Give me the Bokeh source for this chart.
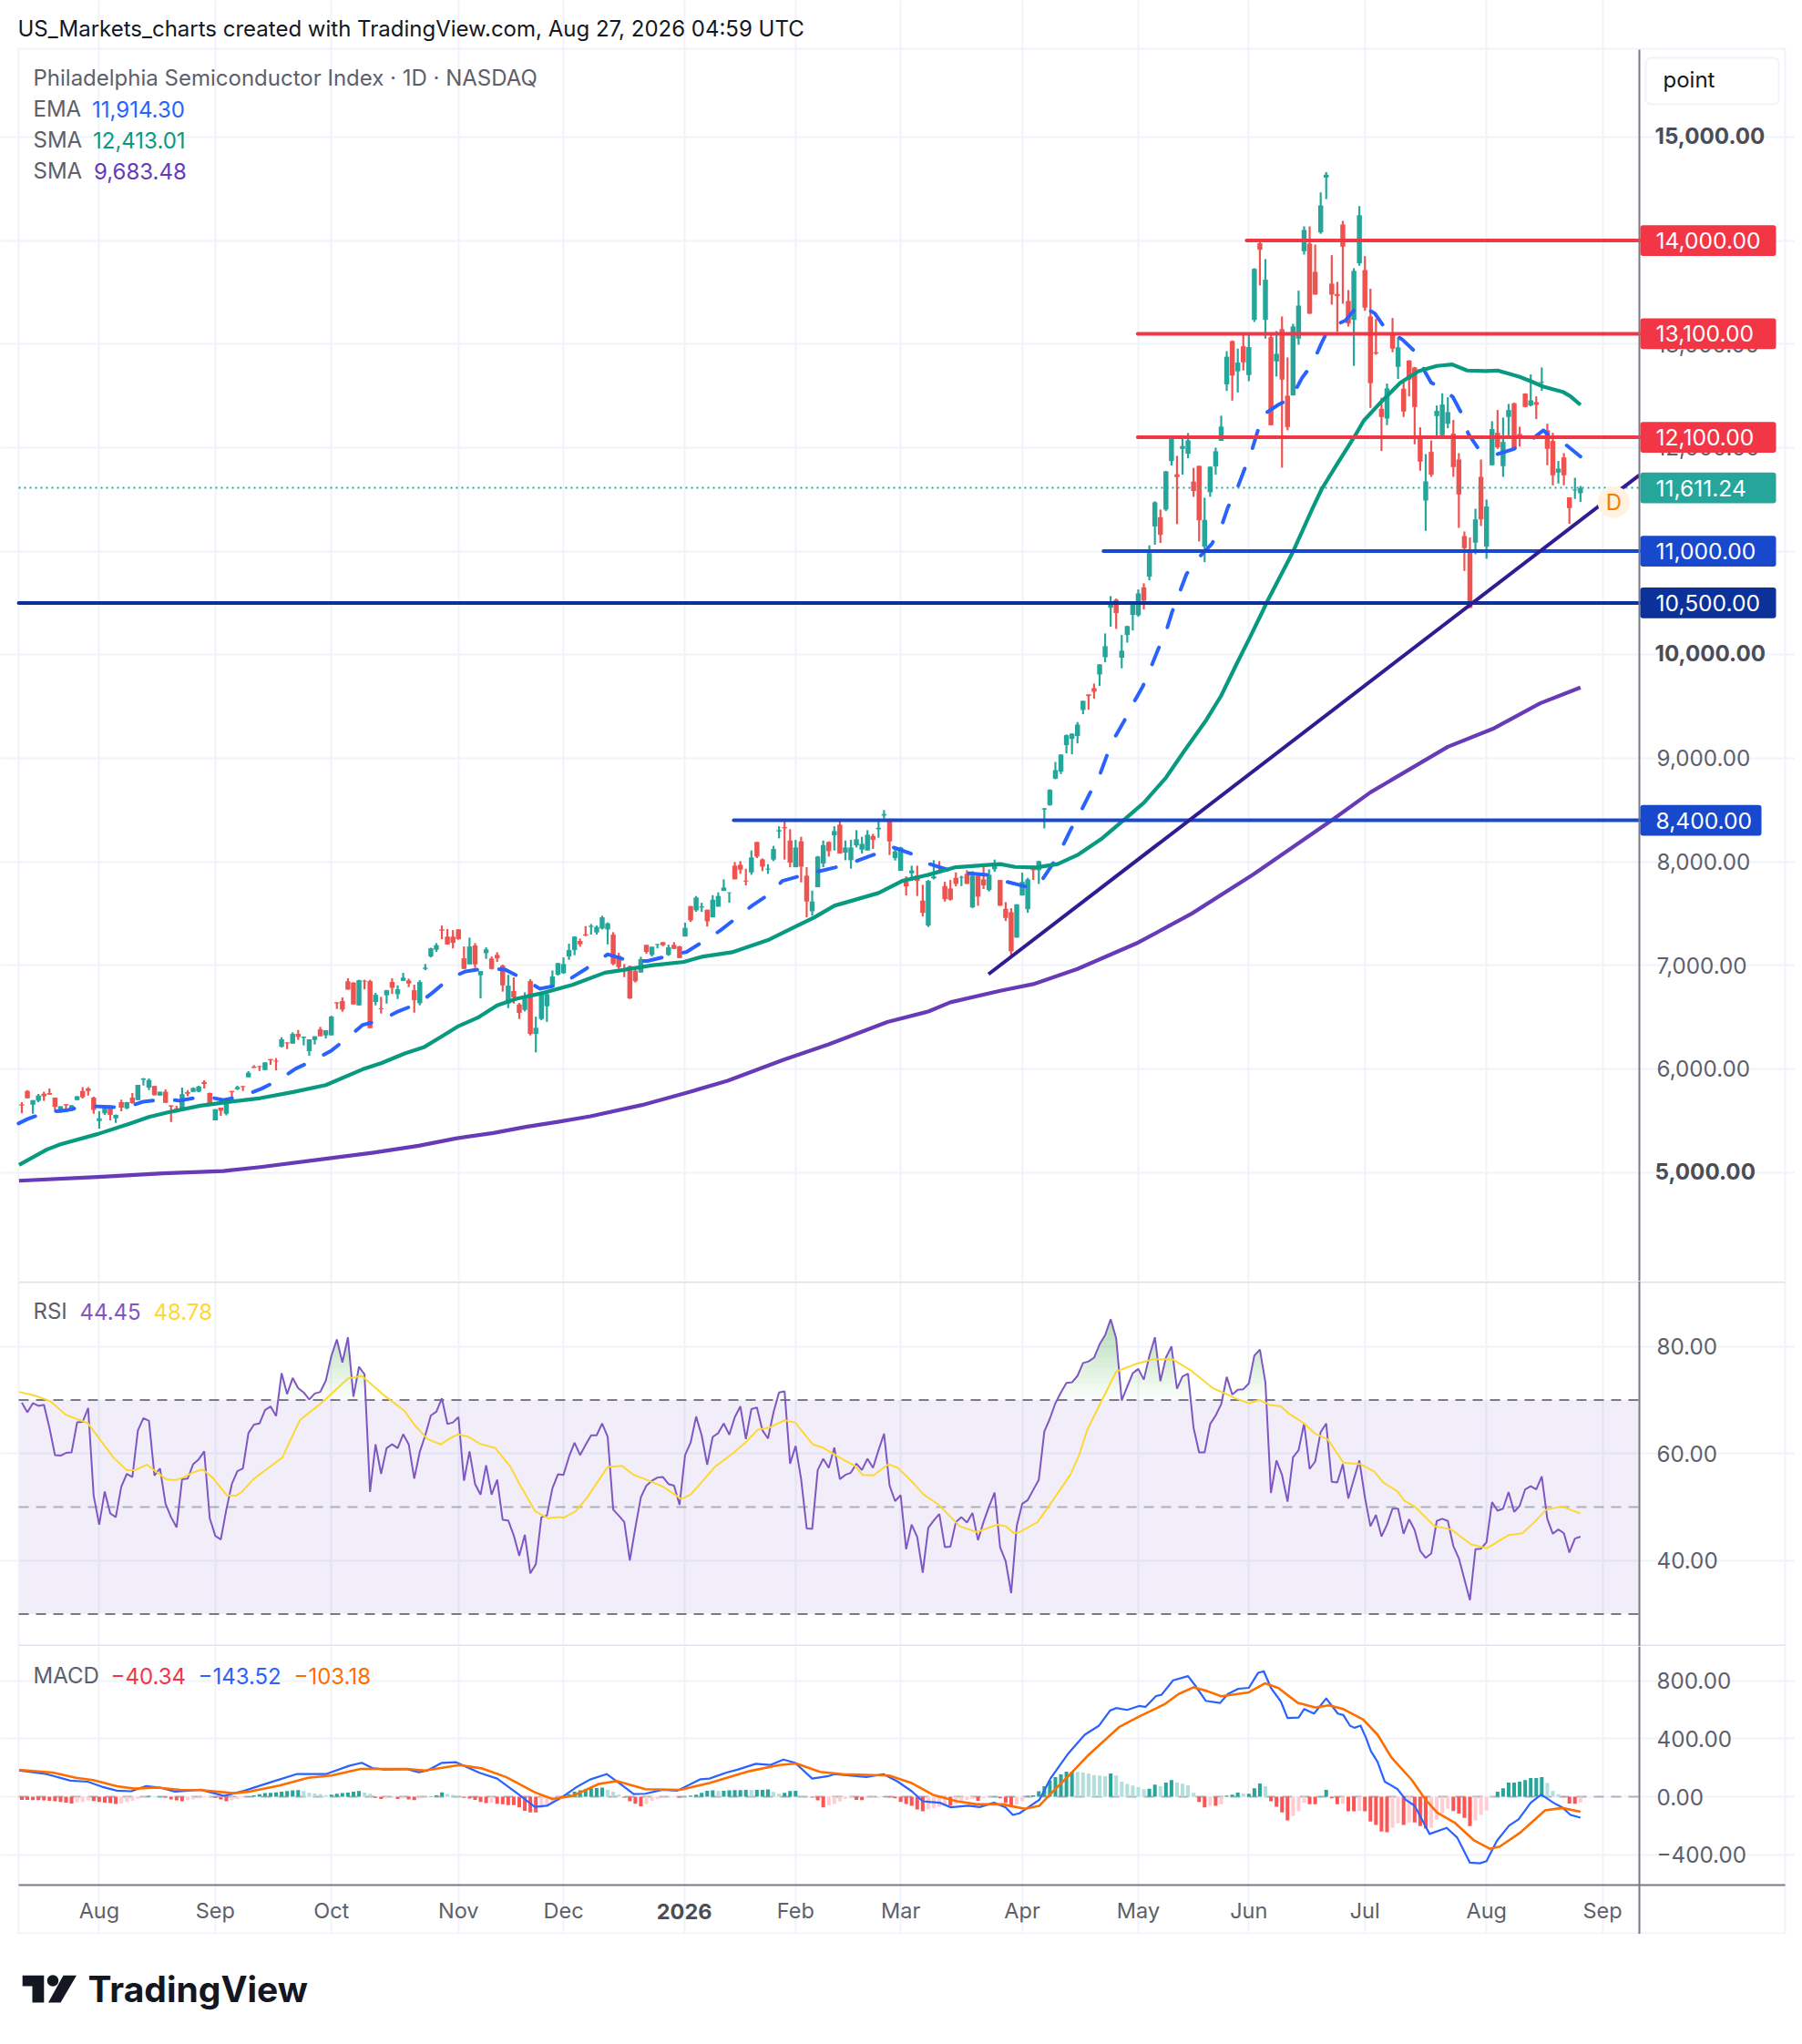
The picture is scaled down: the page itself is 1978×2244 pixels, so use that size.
import numpy as np
from bokeh.plotting import figure
from bokeh.layouts import column
from bokeh.models import Label, BoxAnnotation, FixedTicker
from bokeh.embed import file_html
from bokeh.resources import INLINE

opens = [5657,5786,5654,5692,5759,5765,5721,5598,5657,5598,
5698,5786,5809,5721,5496,5569,5633,5522,5677,5619,
5721,5698,5894,5818,5833,5742,5780,5648,5619,5610,
5774,5777,5780,5874,5765,5501,5625,5566,5786,5803,
5833,5918,6021,6026,5988,6094,6079,6214,6255,6243,
6337,6299,6170,6279,6381,6323,6323,6642,6654,6845,
6833,6613,6850,6847,6645,6584,6710,6839,6721,6850,
6853,6759,6633,6965,7085,7150,7346,7276,7276,7346,
7067,7009,7191,6903,7117,7065,7100,6997,6630,6751,
6622,6569,6847,6337,6481,6604,6789,6909,6924,7085,
7147,7235,7299,7370,7317,7355,7346,7296,7091,6968,
6991,6947,6930,7197,7100,7197,7223,7100,7197,7182,
7278,7572,7531,7557,7537,7463,7566,7718,7698,7962,
7971,7818,7897,8191,8023,7924,8021,8293,8334,8205,
7947,8197,7865,7522,7754,7982,8191,8255,8358,8088,
8015,8158,8117,8109,8249,8314,8446,8402,8035,7912,
7806,7889,7868,7625,7384,7839,7918,7765,7742,7845,
7845,7883,7560,7865,7830,7727,7927,7824,7545,7513,
7267,7674,7542,7930,7918,8504,8548,8803,8871,9126,
9187,9214,9466,9616,9677,9809,9976,10454,10531,9971,
10190,10384,10381,10651,10754,11238,11328,11402,11871,11742,
11988,11941,11672,11824,11044,11569,11818,12065,12611,13029,
12737,12979,12701,13234,13974,13234,13067,12833,13144,12501,
12504,13053,13897,13971,13698,14079,14607,13584,13484,14155,
13416,13234,13780,13715,13267,12921,12375,12281,13103,12780,
12569,12841,12774,12114,11489,11959,12305,12120,12231,12135,
11885,11146,11014,11082,11718,11044,11830,12143,11821,12296,
12428,12132,12522,12407,12440,12627,12167,12064,11759,11906,
11519,11586,11560]

highs = [5677,5795,5698,5757,5780,5809,5721,5639,5657,5651,
5736,5824,5824,5730,5589,5625,5648,5560,5701,5680,
5765,5845,5912,5906,5833,5780,5801,5648,5642,5818,
5795,5820,5836,5889,5770,5610,5625,5672,5786,5836,
5833,5977,6035,6026,6062,6094,6103,6305,6255,6352,
6375,6311,6285,6314,6405,6372,6513,6642,6689,6874,
6836,6860,6860,6860,6733,6695,6762,6874,6806,6927,
6871,6812,6856,7012,7170,7214,7384,7349,7340,7349,
7182,7267,7214,6944,7173,7085,7126,7006,6909,6883,
6636,6739,6865,6504,6724,6730,6950,7023,7076,7208,
7279,7258,7378,7399,7384,7478,7414,7320,7120,7012,
6997,6959,7082,7197,7179,7205,7223,7199,7223,7188,
7411,7572,7669,7604,7537,7677,7704,7830,7704,7997,
8006,7933,8109,8191,8032,7977,8153,8343,8387,8314,
8211,8241,7947,7721,8056,8205,8197,8343,8402,8205,
8211,8305,8241,8305,8270,8387,8499,8416,8138,8144,
7859,7962,7962,7777,7824,8015,8006,7806,7824,7897,
7865,7918,7909,7880,7962,7927,8021,7824,7610,7551,
7589,7894,7845,7962,8010,8519,8700,8964,9038,9229,
9240,9349,9554,9616,9721,9910,10205,10566,10542,10190,
10280,10512,10630,10689,11056,11481,11402,11774,12103,11921,
12103,12141,11804,11824,11516,11820,12000,12308,12932,13035,
12957,13097,13088,13733,13991,13821,13105,13126,13267,12871,
13196,13516,14138,14138,13962,14466,14660,13859,13601,14191,
13522,13733,14334,13850,13534,13243,12481,12619,13252,13067,
12657,12845,12780,12196,11938,12070,12407,12525,12487,12267,
11947,11190,11132,11410,11885,11498,12255,12363,12290,12422,
12434,12202,12525,12707,12495,12774,12231,12143,11871,11947,
11519,11709,11630]

lows = [5569,5715,5566,5677,5692,5751,5581,5575,5589,5589,
5698,5713,5742,5566,5422,5554,5501,5478,5589,5610,
5663,5698,5839,5795,5742,5742,5672,5487,5578,5589,
5736,5777,5775,5809,5645,5501,5545,5551,5686,5795,
5786,5918,6009,5979,5988,6038,5985,6205,6191,6243,
6279,6226,6126,6235,6314,6293,6323,6578,6551,6765,
6622,6610,6768,6393,6613,6534,6630,6724,6674,6850,
6789,6542,6613,6953,7076,7129,7252,7199,7164,7246,
6965,7009,6974,6680,7062,6959,7032,6745,6586,6630,
6481,6554,6322,6158,6469,6454,6789,6900,6918,7053,
7097,7179,7282,7296,7296,7346,7202,7000,6965,6886,
6674,6833,6930,7111,7085,7164,7185,7091,7158,7070,
7278,7419,7516,7516,7375,7463,7566,7718,7604,7830,
7883,7771,7874,8035,7909,7883,8006,8226,8021,7947,
7947,7801,7463,7478,7754,7947,8050,8109,8079,8015,
7933,8138,8079,8109,8123,8232,8416,8065,8012,7912,
7674,7815,7669,7472,7369,7830,7889,7616,7625,7762,
7765,7786,7551,7575,7736,7713,7903,7575,7428,7082,
7267,7674,7507,7824,7786,8322,8540,8797,8847,9047,
9038,9143,9425,9469,9575,9698,9927,10270,10249,9868,
10117,10234,10366,10437,10718,11062,11079,11387,11827,11261,
11739,11898,11525,11094,10894,11525,11739,12065,12548,12454,
12533,12745,12642,13214,13566,13053,12217,12686,11806,12167,
12504,12994,13865,13293,13478,14065,14402,13381,13117,13390,
13170,12789,13757,13322,12384,12897,11967,12217,12921,12663,
12296,12495,12032,11777,11196,11718,12099,12091,12187,11718,
11225,10809,10451,10970,11243,10926,11830,11988,11718,12085,
11985,12011,12390,12399,12275,12548,11830,11636,11654,11636,
11264,11504,11475]

closes = [5648,5715,5698,5742,5736,5751,5633,5639,5648,5648,
5736,5727,5786,5604,5522,5625,5554,5554,5625,5677,
5669,5845,5906,5891,5745,5780,5672,5636,5598,5754,
5759,5815,5830,5853,5654,5610,5595,5672,5774,5824,
5824,5962,6009,6018,6062,6082,6070,6285,6246,6337,
6308,6311,6285,6314,6314,6372,6504,6631,6572,6765,
6622,6856,6842,6393,6715,6575,6759,6783,6768,6880,
6824,6663,6839,6977,7164,7194,7334,7202,7217,7252,
6965,7182,7009,6944,7153,6965,7067,6806,6803,6689,
6540,6680,6337,6396,6721,6721,6891,7021,7012,7147,
7276,7202,7287,7381,7370,7463,7405,7012,6982,6950,
6680,6847,7059,7129,7179,7205,7194,7173,7158,7070,
7361,7434,7654,7569,7425,7633,7669,7751,7704,7830,
7924,7809,8041,8050,7953,7933,8123,8305,8323,7991,
8138,7953,7616,7616,8050,8161,8103,8296,8079,8138,
8138,8217,8173,8261,8211,8328,8460,8197,8100,8138,
7762,7915,7815,7507,7815,7859,7909,7639,7633,7786,
7853,7786,7865,7663,7771,7874,7977,7575,7457,7135,
7589,7806,7830,7918,8006,8516,8695,8885,9035,9223,
9237,9325,9554,9601,9642,9906,10082,10513,10402,10038,
10276,10507,10592,10522,10982,11472,11158,11771,12091,11716,
12015,12071,11581,11299,11302,11815,11965,12203,12878,12696,
12822,12824,12971,13727,13912,13622,12217,12906,12657,12199,
13170,13372,14103,13293,13478,14340,14636,13478,13463,13941,
13199,13707,14246,13352,12622,12909,12296,12572,12956,12968,
12349,12657,12393,11865,11674,11739,12355,12416,12343,11812,
11548,11029,10451,11307,11307,11431,12179,12003,12055,12363,
11988,12091,12393,12457,12413,12636,11988,11733,11797,11733,
11416,11595,11611]

ema_idx = [0.4,2.1,5.4,9,12.5,16,19.7,23,27.3,29.5,34,37.5,41,44.4,47.7,50.5,54,57,60,62.7,66,69.2,72.7,75.4,78.3,81.3,85,88.4,91.9,94.7,98.5,101.3,104.6,107,111,114.2,118,121.3,124.6,127.4,130.4,133.1,136.4,138.6,142.2,149,152,155.7,157.3,158.7,162.2,165,168.8,172,176.5,179,183.6,185.3,187.5,189.2,190.8,192.5,194.2,195.9,197.2,198.5,200.4,202,203.8,205.2,206.6,208,209.1,210.4,211.7,213.7,216.3,218,219.2,220.8,222.1,223.4,224.5,225.6,228.3,230.7,232.6,234.5,236.1,237.5,240.5,242.9,245.8,247.8,250.7,253.2,254.9,256,257.1,259.9,261.6,262.7,264.7,268,271,274.3,276.3,277.4,280.4,283]
ema_val = [5472,5516,5581,5598,5642,5633,5625,5683,5707,5692,5736,5698,5736,5809,5897,6000,6088,6176,6302,6425,6469,6557,6630,6739,6871,6941,6971,6959,6865,6774,6812,6906,7018,7106,7041,7041,7091,7129,7240,7337,7463,7575,7692,7815,7868,7956,8006,8079,8138,8138,8073,7982,7918,7889,7868,7809,7748,7800,7977,8138,8313,8475,8657,8821,9009,9179,9355,9522,9692,9868,10053,10220,10410,10592,10777,10924,11070,11232,11422,11592,11775,11948,12142,12318,12413,12481,12671,12809,13003,13155,13229,13384,13296,13141,13047,12921,12730,12627,12598,12490,12319,12135,11976,11938,11988,12085,12167,12114,12026,11914]

sma50_idx = [0.5,5.5,8,14.8,20.7,24,27.4,33.3,38.3,44.2,50.1,56,62.7,66,70.3,73.7,77,80,83.7,87,90.5,95.5,100.6,106.5,109.8,114.9,120.8,124,129.5,136,140.5,144.4,148,156,160.3,165,170,175.7,178,180.7,184.5,188.4,192,196.5,200.2,204,208,211.4,215.3,218,220.8,223,225.5,226.2,230.9,234.5,236.2,238.9,242.2,243.8,247.1,250.4,253.7,257,259.8,262.5,265.8,268,271.9,274,276.3,279.8,281.2,283]
sma50_val = [5072,5219,5271,5371,5474,5535,5579,5644,5679,5717,5776,5843,5996,6054,6148,6207,6313,6412,6500,6612,6676,6735,6811,6928,6955,6999,7033,7082,7126,7243,7361,7463,7575,7698,7815,7874,7947,7968,7977,7950,7944,7977,8065,8228,8395,8569,8812,9076,9369,9604,9912,10146,10420,10501,10985,11410,11601,11835,12114,12261,12451,12627,12739,12789,12803,12745,12739,12745,12686,12642,12589,12539,12495,12413]

sma200_idx = [0.5,14.8,26.6,37.5,44.2,56,64.4,72.8,79.5,86.3,92.2,98,103.9,113.2,120.8,128.7,138.8,147,157.6,165,169,178,184,192,203,212.7,223.8,238,245,259,267.4,275.7,283]
sma200_val = [4919,4955,4990,5013,5051,5131,5189,5257,5327,5380,5439,5488,5541,5650,5761,5884,6087,6237,6452,6553,6642,6753,6818,6965,7220,7500,7877,8400,8670,9110,9290,9530,9683]

rsi_values = [69.5,67.7,69.4,68.9,69.1,64.8,59.7,59.6,60.1,60.2,
65.8,65.9,68.5,52.1,46.7,52.9,48.8,48.1,53.8,56.2,
55.6,64.3,66.6,66.1,55.9,57.2,50.6,48.1,46.2,55.2,
55.3,58.0,58.9,60.4,47.9,44.6,43.9,49.5,54.3,56.7,
57.2,63.8,65.4,65.6,68.1,68.8,67.0,75.0,71.1,74.1,
72.2,71.4,70.1,71.2,71.5,73.6,78.2,81.3,77.0,81.7,
70.6,76.2,74.8,52.8,61.7,56.2,61.0,61.7,61.0,63.6,
61.7,55.3,60.3,63.4,67.1,67.8,70.3,65.5,65.8,66.8,
54.9,60.4,54.3,52.3,57.8,52.3,55.1,47.6,47.5,44.7,
40.9,44.8,37.6,39.3,48.1,48.4,53.5,56.1,56.0,59.4,
62.0,59.7,61.6,63.4,63.4,65.6,63.1,49.5,48.4,47.2,
40.0,46.1,51.8,54.0,54.9,55.5,55.6,54.3,54.0,50.4,
59.7,62.0,66.9,63.4,57.9,63.1,63.8,65.6,63.5,66.8,
68.8,62.7,68.3,68.6,64.3,62.8,67.7,71.4,71.6,58.1,
61.4,55.2,46.0,45.9,56.9,59.0,57.3,61.1,55.2,56.0,
56.4,58.1,56.9,59.0,57.3,60.6,63.7,54.0,51.1,52.2,
42.1,46.7,44.4,37.7,46.1,47.5,48.7,42.5,42.6,47.2,
48.1,47.1,48.9,43.8,47.2,50.1,52.7,42.5,39.9,33.9,
46.4,50.6,51.3,53.2,55.1,64.1,66.5,69.4,71.4,73.2,
73.3,74.5,76.9,77.2,77.9,80.4,82.1,85.1,81.5,69.9,
72.5,75.0,75.8,73.8,78.2,81.7,73.5,77.9,80.0,72.1,
74.4,74.9,64.8,60.2,60.2,65.5,67.1,69.2,74.3,71.0,
71.9,72.0,73.1,78.3,79.4,73.3,52.6,58.7,56.0,51.0,
59.3,60.6,65.6,57.1,58.5,64.0,65.6,54.7,54.6,58.0,
51.6,55.2,58.7,51.8,46.4,48.5,44.5,46.7,49.7,49.7,
45.0,47.7,45.7,41.8,40.5,41.3,47.4,47.8,47.4,42.7,
40.4,36.5,32.6,42.1,42.2,43.4,50.9,49.3,49.7,52.8,
49.1,50.2,53.3,53.9,53.3,55.7,47.8,45.0,45.8,45.1,
41.5,44.1,44.45]

rsima_idx = [0.5,3.4,6.1,9,12.9,16,17.6,20,21.5,23.6,27.1,28.7,30.2,31.8,33.7,35.5,38.1,39.7,40.8,42.9,46.5,48.1,51.3,55.5,58.1,60,62.5,66.5,70.2,72,74.4,76.8,78.1,79.9,81.8,83.9,86.7,89.4,91.2,93.9,96.2,98.1,99.1,101.2,103.3,107,109.6,111.7,113.8,117,120.3,122,126.4,129.6,132.2,134.1,136.4,139,140.9,144.1,145.9,149.5,151.7,153.1,155.1,157.8,159.5,162,164.2,166.8,170.7,173.8,177.4,179,180.5,181.5,184.8,187.1,190.7,192.3,193.8,196.4,199,202.5,205.7,209.2,212.4,216.5,218.7,220.6,223,224.9,226.7,228.8,230.3,232.9,235,237.3,240.1,243.2,245.7,247.3,249.9,251.2,253,256.6,259.6,263.2,266.1,269.9,272.5,274.5,276.8,279.7,283]
rsima_val = [71.5,70.8,69.8,67.2,65.7,61.4,59.2,56.9,56.9,57.9,55.2,55.0,55.5,56.4,57.0,55.5,52.2,52.1,52.8,55.2,58.0,59.2,66.2,69.7,72.2,74.0,74.5,70.9,68.0,65.4,62.7,61.7,62.6,63.6,63.1,61.8,61.0,57.5,54.0,49.2,47.9,48.1,48.0,49.2,51.8,57.5,57.7,56.0,55.2,53.8,51.5,52.3,57.5,60.0,62.3,64.4,64.9,66.2,65.8,61.7,61.1,58.9,57.7,56.0,55.9,58.0,57.3,54.8,52.3,50.5,46.4,45.3,46.7,46.4,45.1,45.3,47.2,50.6,56.0,59.7,64.5,69.9,75.3,76.7,77.6,77.6,75.6,72.2,71.2,70.3,69.4,70.0,69.1,68.8,67.4,65.7,63.7,62.6,58.3,58.0,56.6,54.6,52.9,51.1,50.1,46.4,45.8,43.0,42.3,44.7,45.1,47.0,49.5,50.1,48.78]

macd_idx = [0.5,5.5,9.8,12.9,15.5,18.2,20.8,23.4,26,28.7,33.4,37.6,41.3,45.5,47.6,50.7,56,60.2,62.5,64.4,66.5,70.7,72.8,74.4,77,79.6,83.8,87,90.7,93.8,96,98.6,101.2,103.8,106.8,109.1,111.7,113.8,116.9,119.6,123.8,125.4,128.5,130.6,133.8,136.4,138.8,140.9,144,146.9,148,153.8,156.9,159.5,162,164,167.1,169.1,172.2,174.3,176.9,179,180.3,181.5,185.1,187.1,190.2,193.3,195.9,197.9,199,201,203.1,204.3,206.2,207.2,209.3,212,213.4,215.2,217.8,219.2,221.1,223,224.7,225.7,227,228.8,230,232,233,234.8,237,239.1,240.1,241.3,242.1,243.2,244.2,245.1,246.3,247.6,249.9,251.4,253,255.7,258.8,260.7,263,264.8,266,267.9,270.1,271.8,274,275.9,278.1,279.7,281.2,283]
macd_val = [181,156,111,104,69,42,38,73,63,36,48,6,42,94,119,156,156,213,234,198,188,190,169,181,234,238,165,125,21,-69,-62,-6,63,119,156,94,19,21,48,42,121,125,167,188,227,219,256,234,125,142,156,136,156,104,38,-31,-41,-73,-62,-71,-41,-73,-125,-114,-21,125,292,427,490,594,611,598,625,619,694,702,802,831,761,661,646,708,744,750,854,865,750,656,542,546,604,573,677,573,563,490,475,490,406,313,240,104,52,-21,-62,-256,-214,-281,-454,-458,-443,-302,-198,-156,-41,15,-41,-73,-125,-143.52]

signal_idx = [0.5,6.6,10.8,13.9,18.2,21.3,25.5,29.7,33.4,39.2,42.3,47.6,52.8,57,62.3,70.7,73.9,80.2,84.4,88.6,93.8,97,100.7,105.4,108.6,113.8,120.1,125.4,132.7,138,141.1,145.4,149.5,157.9,162,166,170.2,173.8,178.4,182.5,185.1,187.7,190.7,193.8,199.5,203.1,207.7,210.3,213,215.4,218,223,225.9,228.3,231.9,235,237.5,240.1,243.7,246.3,248.8,252.5,255,257.1,260.2,263.8,266.6,268.4,272,276.6,279.7,283]
signal_val = [186,167,131,115,73,56,63,48,46,25,36,77,131,146,192,192,181,219,194,136,31,-15,6,88,108,52,48,94,177,219,229,171,156,146,94,11,-31,-52,-52,-83,-62,42,156,281,479,552,636,708,754,729,692,719,781,750,646,615,629,604,531,427,271,115,-21,-110,-177,-302,-358,-343,-250,-94,-77,-103.18]

hist_values = [-21,-21,-23,-23,-25,-27,-31,-35,-40,-46,
-38,-35,-25,-29,-35,-40,-44,-50,-46,-35,
-27,-15,-8,6,4,4,-6,-19,-25,-31,
-23,-19,-12,-6,-4,-8,-19,-31,-25,-17,
-6,4,10,17,25,27,31,35,40,44,
46,40,27,23,19,10,15,21,25,29,
35,40,29,21,-8,-15,-10,-8,-15,-10,
-19,-23,-12,-4,4,10,31,19,13,8,
-8,-12,-21,-35,-44,-40,-48,-52,-58,-58,
-73,-96,-108,-108,-80,-65,-40,-27,-10,17,
35,44,52,58,60,63,48,35,15,-6,
-31,-48,-65,-50,-27,-17,-10,-6,-2,-6,
2,8,15,27,42,44,40,42,44,46,
46,48,46,48,48,50,33,21,27,40,
42,8,2,-6,-25,-73,-58,-50,-33,-15,
-10,-21,-23,-10,-8,-6,4,-4,-10,-35,
-50,-62,-87,-100,-87,-79,-69,-62,-62,-52,
-31,-21,-15,-27,-10,-6,4,-10,-42,-73,
-52,-31,6,10,38,73,110,135,154,173,
173,171,167,160,150,146,142,160,146,104,
88,77,67,52,56,83,73,98,115,98,
90,79,27,-35,-73,-62,-62,-52,8,15,
29,21,21,58,92,73,-31,-69,-108,-162,
-131,-100,-42,-52,-52,4,48,-10,-52,-48,
-100,-100,-98,-100,-171,-194,-240,-244,-215,-183,
-194,-177,-177,-202,-219,-215,-160,-115,-83,-98,
-115,-146,-202,-162,-125,-94,-2,35,58,98,
98,104,115,129,129,135,94,42,17,-2,
-46,-48,-40.34]

month_idx = [15,36,57,80,99,121,141,160,182,203,223,244,266,287]
month_labels = ["Aug","Sep","Oct","Nov","Dec","2026","Feb","Mar","Apr","May","Jun","Jul","Aug","Sep"]
price_ticks = [5000,6000,7000,8000,9000,10000,11000,12000,13000,14000,15000]
rsi_ticks = [40,60,80]
macd_ticks = [-400,0,400,800]

level_values = [14000,13100,12100,11000,10500,8400]
level_start = [222.6,202.9,202.9,196.7,0.43,129.8]
level_colors = ["#F23645","#F23645","#F23645","#1848CC","#0C3299","#1848CC"]
trend_idx = [175.9,293.66]
trend_val = [6914,11735]
last_price = 11611.24

FONT = "Inter"
GRID = "#F0F3FA"
SEP = "#E0E3EB"
AXIS = "#787B86"
TXT = "#5D606B"
UP = "#26A69A"
DOWN = "#EF5350"

XL, XR = 0.43, 293.66   # bar positions of the chart's left edge and of the price scale
W = 1970

def xp(px):
    return XL + (px - 20.0) * (XR - XL) / 1779.0

def yp_factory(top, bot, ytop, ybot):
    return lambda py: ytop + (py - top) * (ybot - ytop) / (bot - top)

def fig(h, yf, py_top, py_bot, py_axis_top, py_axis_bot, ticks, labels):
    p = figure(width=W, height=h, x_range=(xp(0), xp(W)), y_range=(yf(py_bot), yf(py_top)),
               y_axis_location="right", toolbar_location=None,
               output_backend="svg", min_border=0)
    p.outline_line_color = None
    p.background_fill_color = "white"
    p.border_fill_color = "white"
    p.yaxis.fixed_location = XR
    p.yaxis.bounds = (yf(py_axis_bot), yf(py_axis_top))
    p.yaxis.ticker = FixedTicker(ticks=ticks)
    p.yaxis.major_label_overrides = labels
    p.yaxis.axis_line_color = AXIS
    p.yaxis.axis_line_width = 2
    p.yaxis.major_tick_line_color = None
    p.yaxis.minor_tick_line_color = None
    p.yaxis.major_label_standoff = 13
    p.yaxis.major_label_text_font = FONT
    p.yaxis.major_label_text_font_size = "24.2px"
    p.yaxis.major_label_text_color = TXT
    p.xaxis.ticker = FixedTicker(ticks=month_idx)
    p.xgrid.ticker = FixedTicker(ticks=month_idx)
    p.xgrid.grid_line_color = GRID
    p.xgrid.grid_line_width = 2
    p.ygrid.grid_line_color = GRID
    p.ygrid.grid_line_width = 2
    p.ygrid.bounds = (XL, XR)
    return p

def fmt(v):
    return f"{v:,.2f}".replace("-", "\u2212")

def lab(p, yf, px, py, text, color, size=24, bold=False, align="left", **kw):
    p.add_layout(Label(x=xp(px), y=yf(py), text=text, text_font=FONT,
                       text_font_size=f"{size}px", text_color=color,
                       text_font_style="bold" if bold else "normal",
                       text_align=align, text_baseline="middle", **kw))

def frame_line(p, yf, pts, color, width=2):
    p.line([xp(a) for a, b in pts], [yf(b) for a, b in pts], line_color=color, line_width=width)

# ---------- main pane ----------
ym = yp_factory(54, 1406, 15844.1, 3949.0)
main_labels = {t: ("" if t in (5000, 10000, 15000) else fmt(t)) for t in price_ticks}
p1 = fig(1406, ym, 0, 1406, 54, 1406, price_ticks, main_labels)
p1.xaxis.visible = False
p1.xgrid.bounds = (ym(1406), ym(54))
frame_line(p1, ym, [(20, 1406), (20, 53), (1959, 53), (1959, 1406)], GRID)

bars = list(range(1, len(opens) + 1))
assert len(opens) == len(highs) == len(lows) == len(closes) == 283
assert len(rsi_values) == 283 and len(hist_values) == 283

colors = [UP if c >= o else DOWN for o, c in zip(opens, closes)]
p1.segment(bars, lows, bars, highs, color=colors, line_width=2.2)
p1.vbar(x=bars, bottom=[min(o, c) for o, c in zip(opens, closes)],
        top=[max(o, c) for o, c in zip(opens, closes)], width=0.9,
        fill_color=colors, line_color=None)

p1.line([XL, XR], [last_price, last_price], line_color=UP, line_width=2, line_dash="2 4")
p1.line(ema_idx, ema_val, line_color="#2962FF", line_width=4, line_dash="20 24",
        line_cap="round", line_join="round")
p1.line(sma50_idx, sma50_val, line_color="#089981", line_width=4.2, line_join="round")
p1.line(sma200_idx, sma200_val, line_color="#673AB7", line_width=4.2, line_join="round")
p1.segment(level_start, level_values, [XR] * 6, level_values, color=level_colors,
           line_width=4, line_cap="round")
p1.line(trend_idx, trend_val, line_color="#311B92", line_width=4)

p1.scatter([289.0], [11474], marker="circle", size=35, fill_color="#FFF3E0", line_color=None)
p1.add_layout(Label(x=xp(1771), y=11474, text="D", text_font=FONT, text_font_size="24px",
                    text_color="#F57C00", text_align="center", text_baseline="middle"))

lab(p1, ym, 19, 31, "US_Markets_charts created with TradingView.com, Aug 27, 2026 04:59 UTC", "#131722", 24)
lab(p1, ym, 36, 85, "Philadelphia Semiconductor Index \u00b7 1D \u00b7 NASDAQ", TXT, 24)
lab(p1, ym, 36, 119, "EMA", TXT, 24)
lab(p1, ym, 100.5, 119, "11,914.30", "#2962FF", 24)
lab(p1, ym, 36, 153, "SMA", TXT, 24)
lab(p1, ym, 101.5, 153, "12,413.01", "#089981", 24)
lab(p1, ym, 36, 187, "SMA", TXT, 24)
lab(p1, ym, 102.5, 187, "9,683.48", "#673AB7", 24)

# 15,000 / 10,000 / 5,000 are the bold scale labels
for v in (15000, 10000, 5000):
    p1.add_layout(Label(x=xp(1816), y=v + 13, text=fmt(v), text_font=FONT, text_font_size="24.2px",
                        text_font_style="bold", text_color="#4A4D58", text_align="left",
                        text_baseline="middle"))

tags = [(14000, "#F23645", 1949), (13100, "#F23645", 1949), (12100, "#F23645", 1949),
        (11000, "#1848CC", 1949), (10500, "#0C3299", 1949), (8400, "#1848CC", 1933),
        (last_price, UP, 1949)]
tag_half = 148  # half the height of a tag on the price scale
for v, c, right_px in tags:
    p1.quad(left=[xp(1800)], right=[xp(right_px)], top=[v + tag_half], bottom=[v - tag_half],
            fill_color=c, line_color=None, border_radius=3, level="annotation")
    p1.add_layout(Label(x=xp(1817), y=v, text=fmt(v), text_font=FONT, text_font_size="24.6px",
                        text_color="white", text_align="left", text_baseline="middle",
                        level="overlay"))

p1.quad(left=[xp(1806)], right=[xp(1952)], top=[ym(63)], bottom=[ym(114)], fill_color="white",
        line_color=GRID, line_width=2, border_radius=6, level="annotation")
p1.add_layout(Label(x=xp(1825), y=ym(87), text="point", text_font=FONT, text_font_size="24px",
                    text_color="#131722", text_align="left", text_baseline="middle",
                    level="overlay"))

# ---------- RSI pane ----------
yr = yp_factory(1406, 1807, 92.2, 23.95)
p2 = fig(401, yr, 1406, 1807, 1406, 1807, rsi_ticks, {t: fmt(t) for t in rsi_ticks})
p2.xaxis.visible = False
frame_line(p2, yr, [(20, 1406), (20, 1807)], GRID)
frame_line(p2, yr, [(1959, 1406), (1959, 1807)], GRID)
frame_line(p2, yr, [(20, 1407), (1959, 1407)], SEP)
frame_line(p2, yr, [(20, 1806), (1959, 1806)], SEP)

p2.add_layout(BoxAnnotation(left=XL, right=XR, bottom=30, top=70, fill_color="#7E57C2",
                            fill_alpha=0.1, line_color=None, level="underlay"))
# gradient under the line above 70: the fill edge follows the read RSI line
fine_x = np.arange(1, 283.05, 0.1)
fine_y = np.interp(fine_x, bars, rsi_values)
for k in range(15):
    lo = 70 + k
    p2.varea(fine_x, np.full_like(fine_x, lo), np.clip(fine_y, lo, lo + 1),
             fill_color="#4CAF50", fill_alpha=0.03 + 0.028 * k)
for loc, alpha in ((70, 1.0), (50, 0.55), (30, 1.0)):
    p2.line([XL, XR], [loc, loc], line_color=AXIS, line_width=2, line_alpha=alpha, line_dash="11 8")
p2.line(bars, rsi_values, line_color="#7E57C2", line_width=2)
p2.line(rsima_idx, rsima_val, line_color="#FDD835", line_width=2, line_join="round")
lab(p2, yr, 36, 1439, "RSI", TXT, 24)
lab(p2, yr, 87, 1439, "44.45", "#7E57C2", 24)
lab(p2, yr, 168, 1439, "48.78", "#FDD835", 24)

# ---------- MACD pane ----------
ymc = yp_factory(1807, 2069, 1035.6, -608.0)
p3 = fig(316, ymc, 1807, 2123, 1807, 2123, macd_ticks, {t: fmt(t) for t in macd_ticks})
p3.xaxis.fixed_location = ymc(2069)
p3.xaxis.bounds = (xp(20), xp(1959))
p3.xgrid.bounds = (ymc(2069), ymc(1807))
p3.xaxis.major_label_overrides = {m: ("" if l == "2026" else l) for m, l in zip(month_idx, month_labels)}
p3.xaxis.axis_line_color = AXIS
p3.xaxis.axis_line_width = 2
p3.xaxis.major_tick_line_color = None
p3.xaxis.minor_tick_line_color = None
p3.xaxis.major_label_standoff = 7
p3.xaxis.major_label_text_font = FONT
p3.xaxis.major_label_text_font_size = "23.5px"
p3.xaxis.major_label_text_color = TXT
frame_line(p3, ymc, [(20, 1807), (20, 2122), (1959, 2122), (1959, 1807)], GRID)

p3.line([XL, XR], [0, 0], line_color=AXIS, line_width=2, line_alpha=0.55, line_dash="11 8")
hist_colors = []
prev = hist_values[0]
for h in hist_values:
    if h >= 0:
        hist_colors.append("#26A69A" if h >= prev else "#B2DFDB")
    else:
        hist_colors.append("#FF5252" if h <= prev else "#FFCDD2")
    prev = h
p3.vbar(x=bars, bottom=0, top=hist_values, width=0.66, fill_color=hist_colors, line_color=None)
p3.line(macd_idx, macd_val, line_color="#2962FF", line_width=2.2, line_join="round")
p3.line(signal_idx, signal_val, line_color="#FF6D00", line_width=2.6, line_join="round")
lab(p3, ymc, 36, 1839, "MACD", TXT, 24)
lab(p3, ymc, 121, 1839, "\u221240.34", "#F23645", 24)
lab(p3, ymc, 217, 1839, "\u2212143.52", "#2962FF", 24)
lab(p3, ymc, 322, 1839, "\u2212103.18", "#FF6D00", 24)
lab(p3, ymc, 750.6, 2098, "2026", "#4A4D58", 23.5, bold=True, align="center")

# ---------- footer with the logo ----------
p4 = figure(width=W, height=113, x_range=(0, W), y_range=(2236, 2123),
            toolbar_location=None, output_backend="svg", x_axis_type=None, y_axis_type=None,
            min_border=0)
p4.outline_line_color = None
p4.grid.visible = False
p4.patch([24.2, 47.8, 47.8, 35, 35, 24.2], [2168.3, 2168.3, 2198, 2198, 2180, 2180], color="#131722", line_width=0)
p4.patch([69, 83.5, 66, 52.5], [2168.3, 2168.3, 2198, 2198], color="#131722", line_width=0)
p4.scatter([57.5], [2174], marker="circle", size=12.5, color="#131722", line_width=0)
p4.add_layout(Label(x=96, y=2183, text="TradingView", text_font=FONT, text_font_size="39px",
                    text_font_style="bold", text_color="#131722", text_align="left",
                    text_baseline="middle"))

layout = column(p1, p2, p3, p4, spacing=0)
open("out.html", "w").write(file_html(layout, INLINE))
